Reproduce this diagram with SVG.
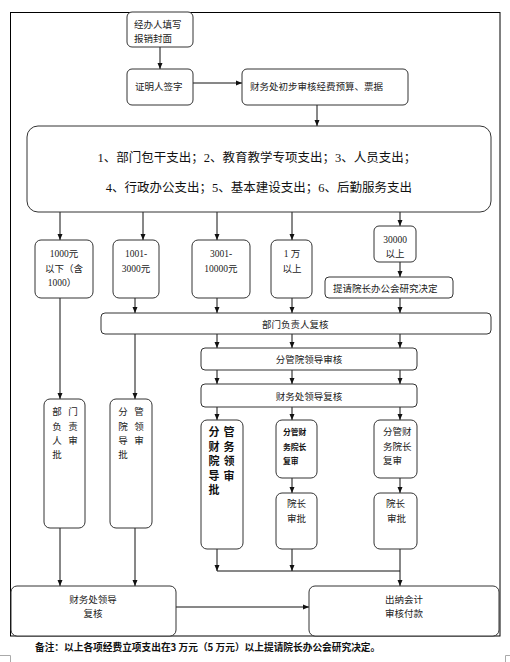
<svg xmlns="http://www.w3.org/2000/svg" width="510" height="662" viewBox="0 0 510 662">
<defs>
<marker id="ah" viewBox="0 0 6 6" refX="6" refY="3" markerWidth="6" markerHeight="6" markerUnits="userSpaceOnUse" orient="auto"><path d="M0,0.5 L6,3 L0,5.5 z" fill="#111"/></marker>
<style>
.b{fill:#fff;stroke:#333;stroke-width:1}
.t{font-family:"Noto Sans CJK SC","Liberation Sans",sans-serif;font-size:9.5px;fill:#222}
.s{font-family:"Liberation Serif","Noto Sans CJK SC",serif;font-size:9.5px;fill:#222}
.L{font-family:"Liberation Serif","Noto Sans CJK SC",serif;font-size:12.5px;fill:#111}
.bd{font-family:"Noto Sans CJK SC",sans-serif;font-weight:bold;fill:#111}
.m{text-anchor:middle}
.c line,.c polyline{stroke:#111;stroke-width:1;fill:none}
.a{marker-end:url(#ah)}
</style>
</defs>
<rect x="0" y="0" width="510" height="662" fill="#fff"/>
<rect x="10.5" y="12.5" width="489.5" height="623.5" fill="none" stroke="#000" stroke-width="1"/>

<g id="connectors" class="c">
<line class="a" x1="160" y1="47" x2="160" y2="69"/>
<line class="a" x1="193" y1="83" x2="242" y2="83"/>
<line class="a" x1="317" y1="105" x2="317" y2="126"/>
<line class="a" x1="60" y1="212" x2="60" y2="240"/>
<line class="a" x1="143" y1="212" x2="143" y2="240"/>
<line class="a" x1="217" y1="212" x2="217" y2="240"/>
<line class="a" x1="292" y1="212" x2="292" y2="240"/>
<line class="a" x1="400" y1="212" x2="400" y2="226"/>
<line class="a" x1="400" y1="262" x2="400" y2="277"/>
<line class="a" x1="135" y1="298" x2="135" y2="313"/>
<line class="a" x1="217" y1="298" x2="217" y2="313"/>
<line class="a" x1="292" y1="298" x2="292" y2="313"/>
<line class="a" x1="400" y1="298" x2="400" y2="313"/>
<line class="a" x1="60" y1="298" x2="60" y2="399"/>
<line class="a" x1="135" y1="334" x2="135" y2="399"/>
<line class="a" x1="217" y1="334" x2="217" y2="348"/>
<line class="a" x1="292" y1="334" x2="292" y2="348"/>
<line class="a" x1="400" y1="334" x2="400" y2="348"/>
<line class="a" x1="217" y1="370" x2="217" y2="384"/>
<line class="a" x1="292" y1="370" x2="292" y2="384"/>
<line class="a" x1="400" y1="370" x2="400" y2="384"/>
<line class="a" x1="217" y1="407" x2="217" y2="420"/>
<line class="a" x1="292" y1="407" x2="292" y2="420"/>
<line class="a" x1="400" y1="407" x2="400" y2="420"/>
<line class="a" x1="292" y1="478" x2="292" y2="493"/>
<line class="a" x1="400" y1="478" x2="400" y2="493"/>
<line class="a" x1="217" y1="549" x2="217" y2="571"/>
<line class="a" x1="292" y1="549" x2="292" y2="571"/>
<line x1="217" y1="571" x2="400" y2="571"/>
<line class="a" x1="400" y1="549" x2="400" y2="586"/>
<line class="a" x1="60" y1="528" x2="60" y2="586"/>
<line class="a" x1="135" y1="528" x2="135" y2="586"/>
<line class="a" x1="176" y1="607" x2="309" y2="607"/>
</g>

<g id="n1"><rect class="b" x="127" y="12" width="66" height="35" rx="5"/>
<text class="t" x="134" y="27.5">经办人填写</text><text class="t" x="134" y="41.5">报销封面</text></g>
<g id="n2"><rect class="b" x="127" y="69" width="66" height="36" rx="5"/>
<text class="t" x="135" y="89.5">证明人签字</text></g>
<g id="n3"><rect class="b" x="242" y="69" width="166" height="36" rx="5"/>
<text class="t" x="250" y="89.5">财务处初步审核经费预算、票据</text></g>
<g id="n4"><rect class="b" x="27" y="126" width="464" height="86" rx="11"/>
<text class="L m" x="257" y="161.5">1、部门包干支出；2、教育教学专项支出；3、人员支出；</text>
<text class="L m" x="259" y="191.5">4、行政办公支出；5、基本建设支出；6、后勤服务支出</text></g>

<g id="n5"><rect class="b" x="35" y="240" width="58" height="58" rx="6"/>
<text class="s m" x="64" y="256.5">1000元</text><text class="s m" x="64" y="271.5">以下（含</text><text class="s m" x="62" y="285.5">1000）</text></g>
<g id="n6"><rect class="b" x="113" y="240" width="46" height="58" rx="6"/>
<text class="s m" x="136" y="256.5">1001-</text><text class="s m" x="136" y="271.5">3000元</text></g>
<g id="n7"><rect class="b" x="192" y="240" width="58" height="58" rx="6"/>
<text class="s m" x="221" y="256.5">3001-</text><text class="s m" x="221" y="271.5">10000元</text></g>
<g id="n8"><rect class="b" x="271" y="240" width="41" height="58" rx="6"/>
<text class="s m" x="292" y="256.5">1 万</text><text class="s m" x="292" y="271.5">以上</text></g>
<g id="n9"><rect class="b" x="374" y="226" width="42" height="36" rx="5"/>
<text class="s m" x="395" y="242.5">30000</text><text class="s m" x="395" y="256.5">以上</text></g>
<g id="n10"><rect class="b" x="325" y="277" width="128" height="21" rx="4"/>
<text class="t" x="333" y="291.5">提请院长办公会研究决定</text></g>
<g id="n11"><rect class="b" x="101" y="313" width="390" height="21" rx="4"/>
<text class="t" x="262" y="327.5">部门负责人复核</text></g>
<g id="n12"><rect class="b" x="201" y="348" width="216" height="22" rx="4"/>
<text class="t m" x="309" y="363">分管院领导审核</text></g>
<g id="n13"><rect class="b" x="201" y="384" width="216" height="23" rx="4"/>
<text class="t m" x="309" y="400">财务处领导复核</text></g>

<g id="n14"><rect class="b" x="44" y="399" width="41" height="129" rx="6"/>
<text class="t m" x="57 73" y="414.5">部门</text><text class="t m" x="57 73" y="429.5">负责</text><text class="t m" x="57 73" y="443.5">人审</text><text class="t m" x="57" y="457.5">批</text></g>
<g id="n15"><rect class="b" x="110" y="399" width="42" height="129" rx="6"/>
<text class="t m" x="123 139" y="414.5">分管</text><text class="t m" x="123 139" y="429.5">院领</text><text class="t m" x="123 139" y="443.5">导审</text><text class="t m" x="123" y="457.5">批</text></g>
<g id="n16"><rect class="b" x="201" y="420" width="42" height="129" rx="6"/>
<g class="bd" font-size="11" text-anchor="middle">
<text x="214 229" y="435.5">分管</text><text x="214 229" y="450.5">财务</text><text x="214 229" y="465">院领</text><text x="214 229" y="479.5">导审</text><text x="214" y="494">批</text></g></g>
<g id="n17"><rect class="b" x="276" y="420" width="41" height="58" rx="6"/>
<g class="bd" font-size="7.8"><text x="283" y="435.3">分管财</text><text x="283" y="450.3">务院长</text><text x="283" y="463.7">复审</text></g></g>
<g id="n18"><rect class="b" x="374" y="420" width="43" height="58" rx="6"/>
<g class="t" font-size="7.8"><text x="383" y="435.3">分管财</text><text x="383" y="450.3">务院长</text><text x="383" y="463.7">复审</text></g></g>
<g id="n19"><rect class="b" x="276" y="493" width="41" height="56" rx="6"/>
<text class="t m" font-size="8.5" x="296.5" y="507">院长</text><text class="t m" font-size="8.5" x="296.5" y="522">审批</text></g>
<g id="n20"><rect class="b" x="374" y="493" width="43" height="56" rx="6"/>
<text class="t m" font-size="8.5" x="395.5" y="507">院长</text><text class="t m" font-size="8.5" x="396.5" y="522">审批</text></g>

<g id="n21"><rect class="b" x="11" y="586" width="165" height="50" rx="6"/>
<text class="t m" x="93" y="602.5">财务处领导</text><text class="t m" x="93" y="616.5">复核</text></g>
<g id="n22"><rect class="b" x="309" y="586" width="190" height="50" rx="6"/>
<text class="t m" x="404" y="602.5">出纳会计</text><text class="t m" x="404" y="616.5">审核付款</text></g>

<text class="bd" font-size="9.7" font-family="Liberation Serif,Noto Sans CJK SC,serif" x="35" y="650.5">备注：以上各项经费立项支出在3 万元（5 万元）以上提请院长办公会研究决定。</text>
<g stroke="#aaa" stroke-width="1" fill="none"><polyline points="0,655.5 10.5,655.5 10.5,662"/><polyline points="510,655.5 505.5,655.5 505.5,662"/></g>
</svg>
